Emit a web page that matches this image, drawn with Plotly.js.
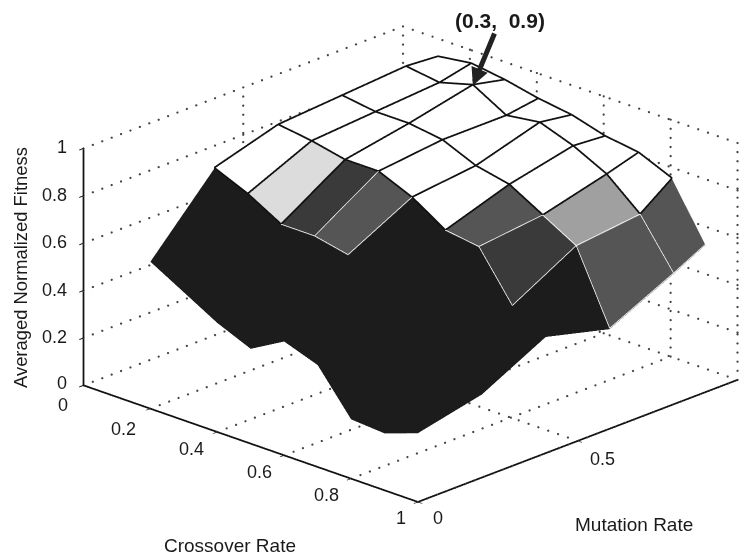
<!DOCTYPE html>
<html><head><meta charset="utf-8">
<script src="https://cdn.plot.ly/plotly-3.0.1.min.js"></script>
<style>html,body{margin:0;padding:0;background:#fff}#g{width:746px;height:555px}</style>
</head><body><div id="g"></div>
<script>
const crossover = [0.2,0.3,0.4,0.5,0.6,0.7,0.8,0.9,1.0];
const mutation = [0,0.2,0.4,0.6,0.8,0.9];
// fitness[crossover index][mutation index]
const fitness = [
 [.62,.91,.99,1.01,1.03,1.02],
 [.54,.85,.97,.99,1.01,1.04],
 [.46,.77,.94,.99,1.05,1.02],
 [.40,.77,.94,.97,.97,.99],
 [.48,.74,.88,.91,.99,.97],
 [.43,.73,.79,.88,.94,.93],
 [.25,.63,.77,.80,.87,.91],
 [.24,.51,.57,.72,.75,.85],
 [.29,.35,.49,.42,.55,.62]
];
// cell shade classes: 0 white, 1 light, 2 medium, 3 dark, 4 darker, 5 black
const shades = [
 [5,0,0,0,0],
 [5,1,0,0,0],
 [5,4,0,0,0],
 [5,3,0,0,0],
 [5,5,0,0,0],
 [5,5,3,0,0],
 [5,5,4,2,0],
 [5,5,5,3,3]
];
const shadeColors = ['#ffffff','#dcdcdc','#a0a0a0','#555555','#3a3a3a','#1c1c1c'];
const crossTicks = [0,0.2,0.4,0.6,0.8,1];
const mutTicks = [0,0.5];
const fitTicks = [0,0.2,0.4,0.6,0.8,1];
// pixel offsets of the tick labels from their ticks
const crossShift = [[-20,-20],[-27,-20],[-26,-17],[-25,-17],[-25,-16],[-17,-16]];
const mutShift = [[20,-16],[25,-18]];

const vx=[],vy=[],vz=[],I=[],J=[],K=[],fc=[];
const id=(a,b)=>a*mutation.length+b;
crossover.forEach((c,a)=>mutation.forEach((m,b)=>{vx.push(c);vy.push(m);vz.push(fitness[a][b]);}));
shades.forEach((row,a)=>row.forEach((s,b)=>{
  I.push(id(a,b),id(a,b));J.push(id(a+1,b),id(a+1,b+1));K.push(id(a+1,b+1),id(a,b+1));
  fc.push(shadeColors[s],shadeColors[s]);
}));
const traces=[{type:'mesh3d',x:vx,y:vy,z:vz,i:I,j:J,k:K,facecolor:fc,flatshading:true,
  lighting:{ambient:1,diffuse:0,specular:0,fresnel:0,roughness:1},lightposition:{x:0,y:0,z:1e5},hoverinfo:'skip',showscale:false}];

// mesh edges
const lift=0.004;
const blk={x:[],y:[],z:[]},wht={x:[],y:[],z:[]};
function seg(a1,b1,a2,b2,adj){
  const vals=adj.filter(v=>v!==null);
  if(vals.every(v=>v===5)) return;
  const t=vals.some(v=>v<=1)?blk:wht;
  t.x.push(crossover[a1],crossover[a2],null);
  t.y.push(mutation[b1],mutation[b2],null);
  t.z.push(fitness[a1][b1]+lift,fitness[a2][b2]+lift,null);
}
const S=(a,b)=>(shades[a]&&shades[a][b]!==undefined)?shades[a][b]:null;
crossover.forEach((c,a)=>mutation.forEach((m,b)=>{
  if(a<crossover.length-1) seg(a,b,a+1,b,[S(a,b),S(a,b-1)]);
  if(b<mutation.length-1) seg(a,b,a,b+1,[S(a,b),S(a-1,b)]);
}));
traces.push({type:'scatter3d',mode:'lines',x:blk.x,y:blk.y,z:blk.z,line:{color:'#111',width:3.5},hoverinfo:'skip'});
traces.push({type:'scatter3d',mode:'lines',x:wht.x,y:wht.y,z:wht.z,line:{color:'#fff',width:1.5},hoverinfo:'skip'});

// dotted back grid, sampled as small dots along each grid line
const gd={x:[],y:[],z:[]};
const L=(a,b,n)=>{for(let t=0;t<=n;t++){const f=t/n;gd.x.push(a[0]+(b[0]-a[0])*f);gd.y.push(a[1]+(b[1]-a[1])*f);gd.z.push(a[2]+(b[2]-a[2])*f);}};
crossTicks.forEach(c=>{L([c,0,0],[c,1,0],34);L([c,1,0],[c,1,1],26);});
[0.5,1].forEach(m=>{L([0,m,0],[1,m,0],34);L([0,m,0],[0,m,1],26);});
L([0,0,0],[0,1,0],34);
fitTicks.slice(1).forEach(z=>{L([0,0,z],[0,1,z],34);L([0,1,z],[1,1,z],34);});
traces.push({type:'scatter3d',mode:'markers',x:gd.x,y:gd.y,z:gd.z,marker:{color:'#444',size:1.3,line:{width:0}},hoverinfo:'skip'});
// solid axis lines
traces.push({type:'scatter3d',mode:'lines',x:[0,0,null,0,1,1],y:[0,0,null,0,0,1],z:[0,1,null,0,0,0],line:{color:'#111',width:3.5},hoverinfo:'skip'});

const tickFont={family:'Liberation Sans',size:18,color:'#1a1a1a'};
const titleFont={family:'Liberation Sans',size:19,color:'#1a1a1a'};
const tickAnn=[];
crossTicks.forEach((c,n)=>tickAnn.push({x:c,y:0,z:0,text:String(c),showarrow:false,font:tickFont,xshift:crossShift[n][0],yshift:crossShift[n][1]}));
mutTicks.forEach((m,n)=>tickAnn.push({x:1,y:m,z:0,text:String(m),showarrow:false,font:tickFont,xshift:mutShift[n][0],yshift:mutShift[n][1]}));
fitTicks.forEach(v=>tickAnn.push({x:0,y:0,z:v,text:String(v),showarrow:false,font:tickFont,xanchor:'right',xshift:-14,yshift:v===0?2:1}));

const ax={showgrid:false,zeroline:false,showline:false,showbackground:false,showspikes:false,ticks:'outside',ticklen:6,tickcolor:'#111',tickwidth:2,showticklabels:false,
  title:{text:''},autorange:false};
const layout={width:746,height:555,margin:{l:0,r:0,t:0,b:0},paper_bgcolor:'#fff',showlegend:false,
 scene:{domain:{x:[0,1],y:[0,1]},aspectmode:'manual',aspectratio:{x:1.667,y:1.667,z:0.972},
  camera:{projection:{type:'orthographic'},up:{x:0,y:0,z:1},center:{x:-0.079,y:-0.1128,z:-0.0686},eye:{x:1.85,y:-2.132,z:1.026}},
  xaxis:Object.assign({},ax,{range:[0,1],tickvals:crossTicks}),
  yaxis:Object.assign({},ax,{range:[0,1],tickvals:mutTicks}),
  zaxis:Object.assign({},ax,{range:[0,1.06],tickvals:fitTicks}),
  annotations:tickAnn.concat([{x:0.4,y:0.8,z:1.05,text:'<b>(0.3,&nbsp; 0.9)</b>',showarrow:true,arrowhead:2,arrowwidth:5,arrowsize:0.7,arrowcolor:'#222',ax:27,ay:-65,font:{family:'Liberation Sans',size:21,color:'#1a1a1a'}}])
 },
 annotations:[
  {xref:'paper',yref:'paper',x:230/746,y:1-545/555,xanchor:'center',yanchor:'middle',showarrow:false,text:'Crossover Rate',font:titleFont},
  {xref:'paper',yref:'paper',x:634/746,y:1-524/555,xanchor:'center',yanchor:'middle',showarrow:false,text:'Mutation Rate',font:titleFont},
  {xref:'paper',yref:'paper',x:20/746,y:1-268/555,xanchor:'center',yanchor:'middle',showarrow:false,textangle:-90,text:'Averaged Normalized Fitness',font:{family:'Liberation Sans',size:18.4,color:'#1a1a1a'}}
 ]};
Plotly.newPlot('g',traces,layout,{displayModeBar:false,staticPlot:false});
</script></body></html>
